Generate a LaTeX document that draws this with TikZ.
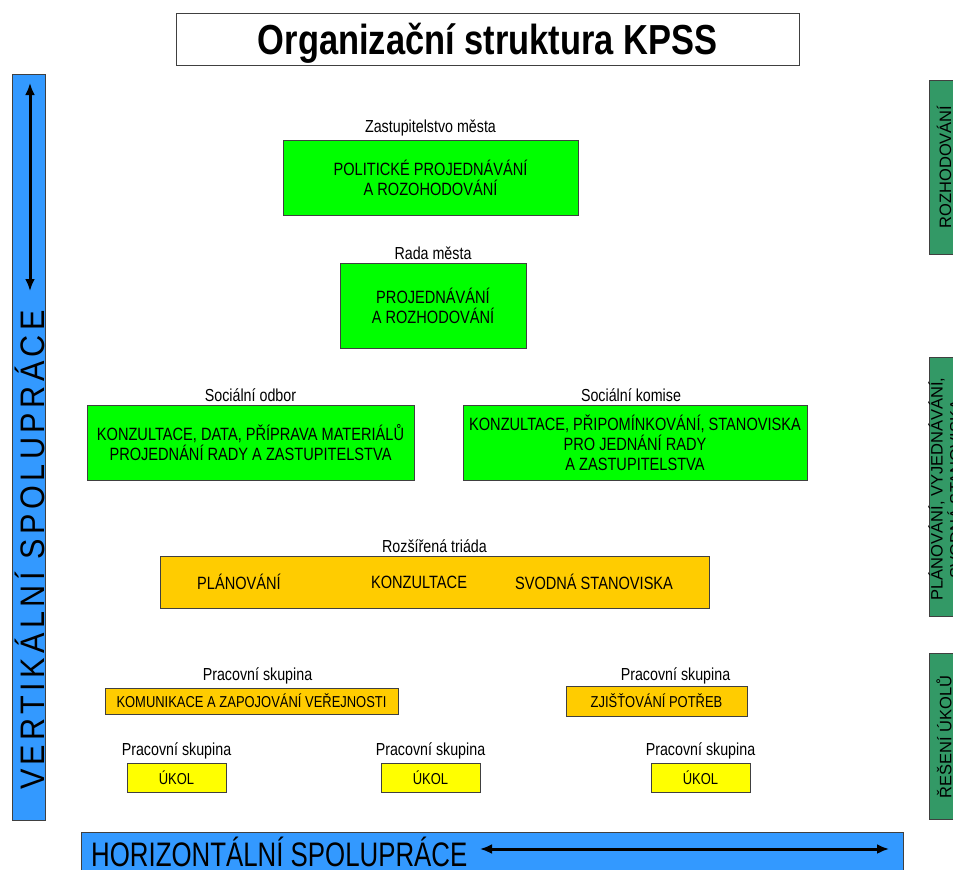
\documentclass[tikz,border=0pt]{standalone}
\usepackage{fontspec}
\setmainfont[FakeStretch=0.82]{Liberation Sans}
\newfontfamily\narrowfont[FakeStretch=0.76]{Liberation Sans}
\newfontfamily\widefont[FakeStretch=0.9,LetterSpace=13]{Liberation Sans}
\newfontfamily\sidefont{Liberation Sans}
\usetikzlibrary{positioning,arrows.meta}
\definecolor{boxgreen}{HTML}{00FF00}
\definecolor{boxorange}{HTML}{FFCC00}
\definecolor{boxyellow}{HTML}{FFFF00}
\definecolor{barblue}{HTML}{3399FF}
\definecolor{bargreen}{HTML}{339966}

\tikzset{
  box/.style = {draw = black!75, shape = rectangle, align = center, inner sep = 0pt,
    font = \fontsize{17.8}{20}\selectfont},
  greenbox/.style = {box, fill = boxgreen},
  orangebox/.style = {box, fill = boxorange},
  taskbox/.style = {box, fill = boxyellow, minimum width = 99pt, minimum height = 29pt},
  smalltext/.style = {font = \fontsize{15.8}{18}\selectfont},
  caption/.style = {inner sep = 0pt, font = \fontsize{17.4}{20}\selectfont},
  sidebar/.style = {draw = black!75, fill = bargreen},
  sidetext/.style = {rotate = 90, inner sep = 0pt, align = center,
    font = \fontsize{16.5}{19}\sidefont},
  both/.style = {line width = 3pt, {Latex[length=12pt,width=10pt]}-{Latex[length=12pt,width=10pt]}}
}

\begin{document}
\begin{tikzpicture}[x = 1pt, y = -1pt]
\useasboundingbox (0,0) rectangle (953,870);
\clip (0,0) rectangle (953,870);

% title
\node[draw = black!75, minimum width = 623pt, minimum height = 52pt, text depth = 0pt,
  font = \fontsize{42}{46}\selectfont\bfseries] (title) at (487.5,39) {Organizační struktura KPSS};

% vertical bar
\node[draw = black!75, fill = barblue, minimum width = 33pt, minimum height = 746pt] (vbar) at (28.5,447) {};
\node[rotate = 90, inner sep = 0pt, font = \fontsize{34}{38}\widefont] (vtext) at (30,550) {VERTIKÁLNÍ SPOLUPRÁCE};
\coordinate (vtop) at (30,83);
\coordinate (vbot) at (30,291);
\draw[both] (vtop) -- (vbot);

% horizontal bar
\node[draw = black!75, fill = barblue, minimum width = 822pt, minimum height = 44pt] (hbar) at (492,854) {};
\node[anchor = west, inner sep = 0pt, font = \fontsize{34}{38}\narrowfont] (htext) at (91,852) {HORIZONTÁLNÍ SPOLUPRÁCE};
\coordinate (hleft) at (480,849);
\coordinate (hright) at (889,849);
\draw[both] (hleft) -- (hright);

% side bars
\node[sidebar, minimum width = 50pt, minimum height = 174pt] (s1) at (954,167) {};
\node[sidetext] (s1t) at (944,167) {ROZHODOVÁNÍ};
\node[sidebar, minimum width = 50pt, minimum height = 259pt] (s2) at (954,486.5) {};
\node[sidetext] (s2t) at (945,489) {PLÁNOVÁNÍ, VYJEDNÁVÁNÍ,\\ SVODNÁ STANOVISKA};
\node[sidebar, minimum width = 50pt, minimum height = 166pt] (s3) at (954,736) {};
\node[sidetext] (s3t) at (944,737) {ŘEŠENÍ ÚKOLŮ};

% green level
\node[greenbox, minimum width = 295pt, minimum height = 75pt] (zm) at (430.5,177.5) {POLITICKÉ PROJEDNÁVÁNÍ\\ A ROZOHODOVÁNÍ};
\node[caption, above = 3pt of zm] (zml) {Zastupitelstvo města};
\node[greenbox, minimum width = 186pt, minimum height = 85pt] (rm) at (433,305.5) {PROJEDNÁVÁNÍ\\ A ROZHODOVÁNÍ};
\node[caption, above = 3pt of rm] (rml) {Rada města};
\node[greenbox, minimum width = 327pt, minimum height = 75pt] (so) at (250.5,442.5) {KONZULTACE, DATA, PŘÍPRAVA MATERIÁLŮ\\ PROJEDNÁNÍ RADY A ZASTUPITELSTVA};
\node[caption, above = 3pt of so] (sol) {Sociální odbor};
\node[greenbox, minimum width = 344pt, minimum height = 75pt] (sk) at (635,442.5) {KONZULTACE, PŘIPOMÍNKOVÁNÍ, STANOVISKA\\ PRO JEDNÁNÍ RADY\\ A ZASTUPITELSTVA};
\node[caption, above = 3pt of sk, xshift = -4pt] (skl) {Sociální komise};

% triad
\node[orangebox, minimum width = 549pt, minimum height = 52pt] (rt) at (434.5,582) {};
\node[caption, above = 3pt of rt] (rtl) {Rozšířená triáda};
\node[box, draw = none] (rt1) at (239,582) {PLÁNOVÁNÍ};
\node[box, draw = none] (rt2) at (419,582) {KONZULTACE};
\node[box, draw = none] (rt3) at (594,582) {SVODNÁ STANOVISKA};

% working groups
\node[orangebox, smalltext, minimum width = 293pt, minimum height = 26pt] (ps1) at (251.5,701) {KOMUNIKACE A ZAPOJOVÁNÍ VEŘEJNOSTI};
\node[caption, above = 3pt of ps1, xshift = 6pt] (ps1l) {Pracovní skupina};
\node[orangebox, smalltext, minimum width = 181pt, minimum height = 30pt] (ps2) at (656.5,701) {ZJIŠŤOVÁNÍ POTŘEB};
\node[caption, above = 1pt of ps2, xshift = 19pt] (ps2l) {Pracovní skupina};
\node[taskbox, smalltext] (u1) at (176.5,777.5) {ÚKOL};
\node[caption, above = 3pt of u1] (u1l) {Pracovní skupina};
\node[taskbox, smalltext] (u2) at (430.5,777.5) {ÚKOL};
\node[caption, above = 3pt of u2] (u2l) {Pracovní skupina};
\node[taskbox, smalltext] (u3) at (700.5,777.5) {ÚKOL};
\node[caption, above = 3pt of u3] (u3l) {Pracovní skupina};
\end{tikzpicture}
\end{document}
